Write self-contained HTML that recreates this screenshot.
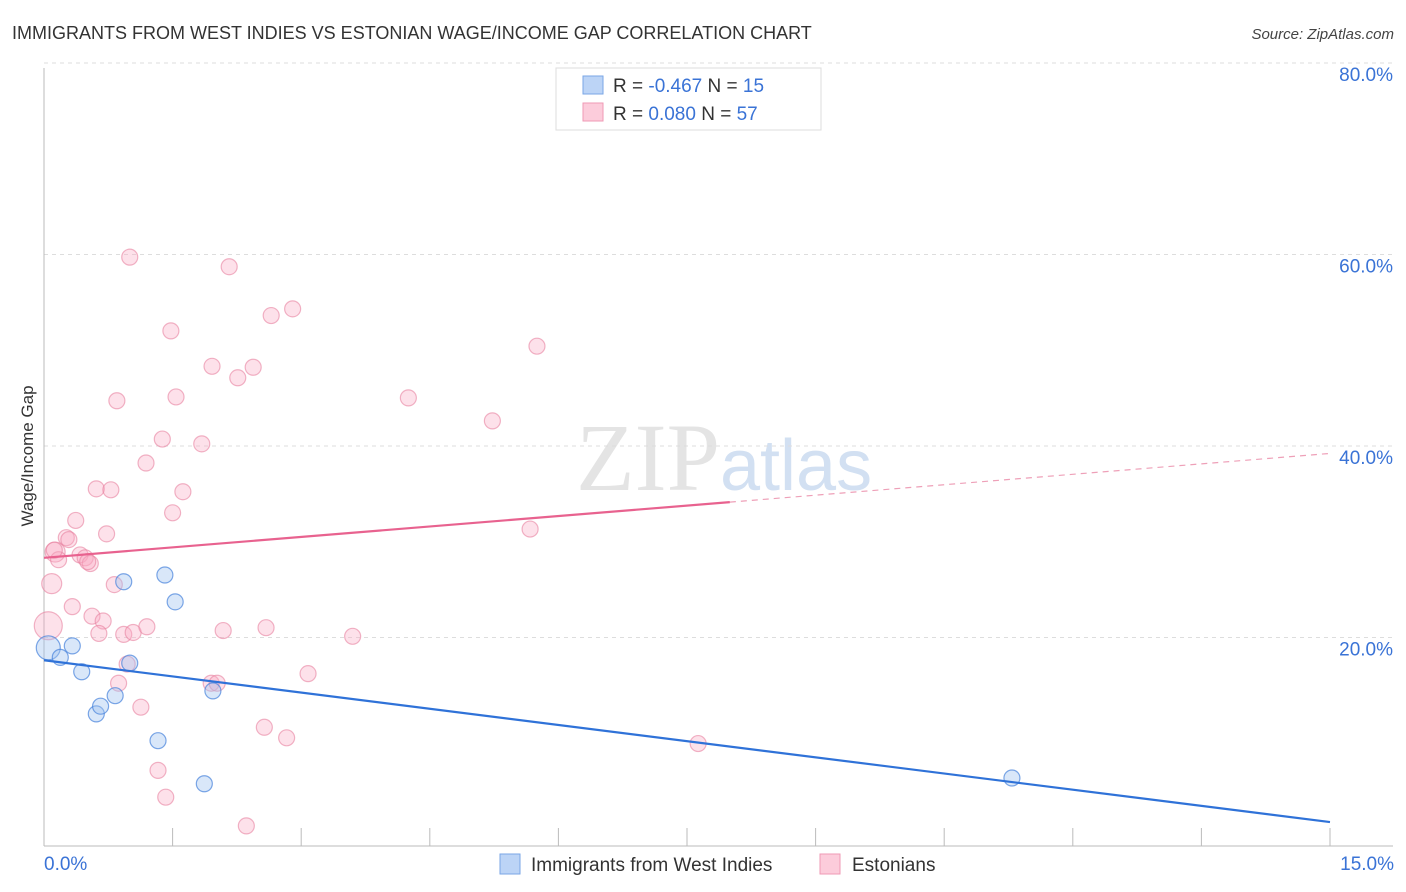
<!DOCTYPE html>
<html><head><meta charset="utf-8"><style>
body{margin:0;background:#fff;font-family:"Liberation Sans",sans-serif;}
svg{display:block}
</style></head><body>
<svg id="chart" width="1406" height="892" xmlns="http://www.w3.org/2000/svg">
<text x="12" y="39" font-size="18" fill="#333">IMMIGRANTS FROM WEST INDIES VS ESTONIAN WAGE/INCOME GAP CORRELATION CHART</text>
<text x="1394" y="39" font-size="15" fill="#444" text-anchor="end" font-style="italic">Source: ZipAtlas.com</text>
<text x="720" y="490" font-size="96" fill="#e4e4e4" text-anchor="end" font-family="Liberation Serif,serif">ZIP</text>
<text x="720" y="490" font-size="72" fill="#d2e0f2">atlas</text>
<g id="grid"></g>
<g id="axes"></g>
<g id="pts"></g>
<g id="lines"></g>
<text transform="translate(33,456) rotate(-90)" font-size="17" fill="#333" text-anchor="middle">Wage/Income Gap</text>
<g>
<rect x="556" y="68" width="265" height="62" fill="#fff" stroke="#ddd"/>
<rect x="583" y="76" width="20" height="18" fill="#bcd4f6" stroke="#7aa6e6"/>
<rect x="583" y="103" width="20" height="18" fill="#fcccdb" stroke="#ef9ab4"/>
<text x="613" y="92" font-size="19" fill="#333">R = <tspan fill="#3a73d6">-0.467</tspan>   N = <tspan fill="#3a73d6"> 15</tspan></text>
<text x="613" y="120" font-size="19" fill="#333">R = <tspan fill="#3a73d6"> 0.080</tspan>   N = <tspan fill="#3a73d6">57</tspan></text>
</g>
<g>
<rect x="500" y="854" width="20" height="20" fill="#bcd4f6" stroke="#7aa6e6"/>
<text x="531" y="871" font-size="19" fill="#333">Immigrants from West Indies</text>
<rect x="820" y="854" width="20" height="20" fill="#fcccdb" stroke="#ef9ab4"/>
<text x="852" y="871" font-size="19" fill="#333">Estonians</text>
</g>
</svg>
<script>
const blueX=[0.05,0.19,0.33,0.44,0.61,0.66,0.83,0.93,1.0,1.33,1.41,1.53,1.87,1.97,11.29];
const blueY=[20.7,19.7,20.9,18.2,13.8,14.6,15.7,27.6,19.1,11.0,28.3,25.5,6.5,16.2,7.1];
const blueR=[12,8,8,8,8,8,8,8,8,8,8,8,8,8,8];
const pinkX=[1.00,2.16,1.48,2.90,2.65,1.96,2.44,2.26,5.75,0.85,1.54,4.25,5.23,1.38,1.84,1.19,0.61,0.78,1.62,1.50,0.37,0.73,5.67,0.26,0.29,0.13,0.42,0.48,0.17,0.54,0.09,0.82,0.33,0.56,0.69,0.05,0.64,0.93,1.04,1.20,2.09,2.59,3.60,0.97,3.08,0.87,1.95,2.02,1.13,2.57,2.83,7.63,1.33,1.42,2.36,0.51,0.12];
const pinkY=[61.5,60.5,53.8,56.1,55.4,50.1,50.0,48.9,52.2,46.5,46.9,46.8,44.4,42.5,42.0,40.0,37.3,37.2,37.0,34.8,34.0,32.6,33.1,32.2,32.0,30.7,30.4,30.1,29.9,29.5,27.4,27.3,25.0,24.0,23.5,23.0,22.2,22.1,22.3,22.9,22.5,22.8,21.9,19.0,18.0,17.0,17.0,17.0,14.5,12.4,11.3,10.7,7.9,5.1,2.1,29.7,30.9];
const pinkR=[8,8,8,8,8,8,8,8,8,8,8,8,8,8,8,8,8,8,8,8,8,8,8,8,8,10,8,8,8,8,10,8,8,8,8,14,8,8,8,8,8,8,8,8,8,8,8,8,8,8,8,8,8,8,8,8,8];
const yTicks=[20,40,60,80];
const xTickLabels=["0.0%","15.0%"];
const blueLine=[19.4,2.5];
const pinkLine=[30.1,41.0];
const pinkSolidEnd=8.0;
const NS="http://www.w3.org/2000/svg";
const sx=v=>44+v*(1330-44)/15;
const sy=v=>846-v*9.575;
function mk(tag,attrs,parent){const e=document.createElementNS(NS,tag);for(const k in attrs)e.setAttribute(k,attrs[k]);parent.appendChild(e);return e;}
const grid=document.getElementById('grid'),axes=document.getElementById('axes'),pts=document.getElementById('pts'),lines=document.getElementById('lines');
yTicks.forEach(t=>{
 const g=mk('line',{x1:44,x2:1393,y1:sy(t)-17,y2:sy(t)-17,stroke:'#ddd','stroke-dasharray':'4,4'},grid);
 
 
 const l=mk('text',{x:1393,y:sy(t)+1,'font-size':19,fill:'#3a73d6','text-anchor':'end'},axes);
 l.textContent=t.toFixed(1)+'%';
 
 
});
const ya=mk('line',{x1:44,x2:44,y1:68,y2:846,stroke:'#bbb'},axes);


const xa=mk('line',{x1:44,x2:1393,y1:846,y2:846,stroke:'#bbb'},axes);


for(let i=0;i<=10;i++){
 const tk=mk('line',{x1:sx(i*1.5),x2:sx(i*1.5),y1:828,y2:846,stroke:'#bbb'},axes);
 
 
}
[[0,'start'],[15,'end']].forEach((p,i)=>{
 const t=mk('text',{x:i?1394:44,y:870,'font-size':19,fill:'#3a73d6','text-anchor':p[1]},axes);
 t.textContent=xTickLabels[i];
 
 
});
pinkX.forEach((x,i)=>{
 const c=mk('circle',{cx:sx(x),cy:sy(pinkY[i]),r:pinkR[i],fill:'rgba(248,170,195,0.35)',stroke:'rgba(232,130,160,0.6)','stroke-width':1.2},pts);
 
 
});
blueX.forEach((x,i)=>{
 const c=mk('circle',{cx:sx(x),cy:sy(blueY[i]),r:blueR[i],fill:'rgba(160,195,240,0.4)',stroke:'rgba(70,130,220,0.7)','stroke-width':1.2},pts);
 
 
});
const bl=mk('line',{x1:sx(0),y1:sy(blueLine[0]),x2:sx(15),y2:sy(blueLine[1]),stroke:'#2f72d8','stroke-width':2.2},lines);


const pm=pinkLine[0]+(pinkLine[1]-pinkLine[0])*pinkSolidEnd/15;
const pl=mk('line',{x1:sx(0),y1:sy(pinkLine[0]),x2:sx(pinkSolidEnd),y2:sy(pm),stroke:'#e8628f','stroke-width':2.2},lines);


const pd=mk('line',{x1:sx(pinkSolidEnd),y1:sy(pm),x2:sx(15),y2:sy(pinkLine[1]),stroke:'#eea0b8','stroke-width':1.2,'stroke-dasharray':'6,5'},lines);


</script>
</body></html>
